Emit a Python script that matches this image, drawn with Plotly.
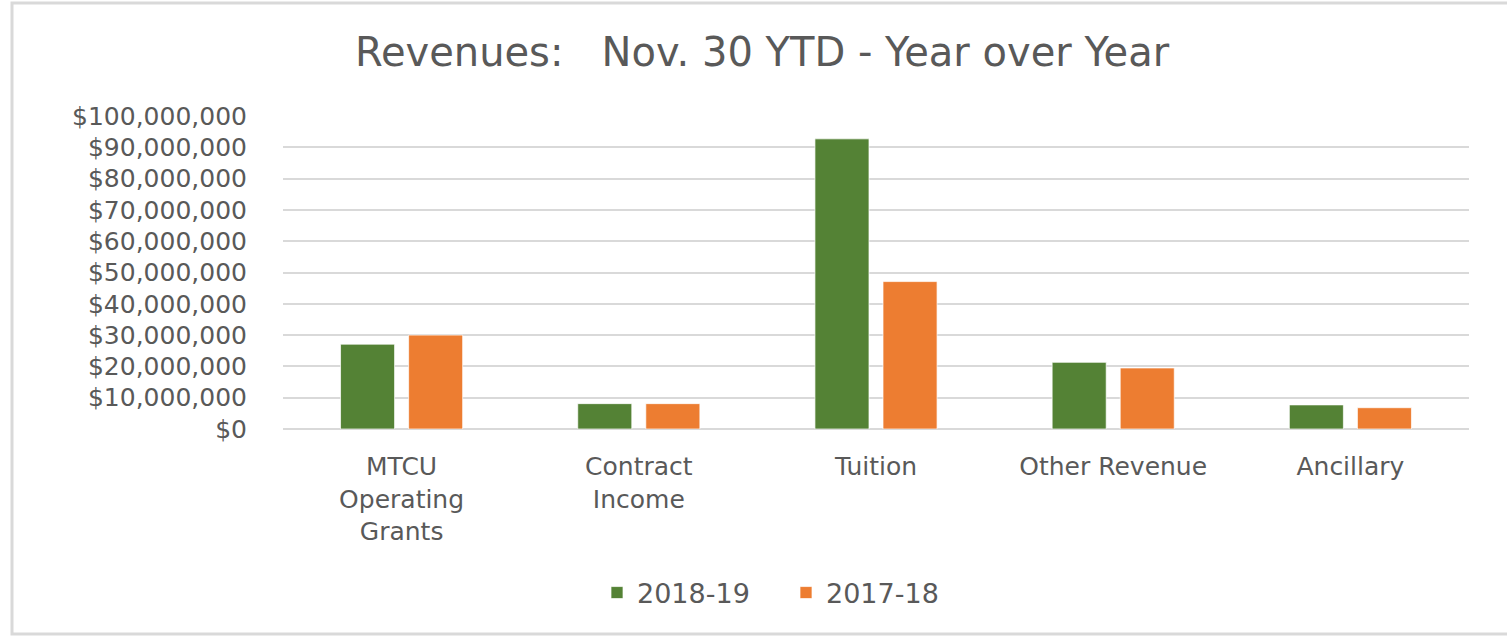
import plotly.graph_objects as go

# Revenues Nov. 30 YTD, year over year
categories = ["MTCU<br>Operating<br>Grants", "Contract<br>Income", "Tuition", "Other Revenue", "Ancillary"]
rev_2018_19 = [27100000, 8100000, 92700000, 21300000, 7700000]
rev_2017_18 = [30000000, 8100000, 47100000, 19500000, 6800000]
y_ticks = [0, 10000000, 20000000, 30000000, 40000000, 50000000,
           60000000, 70000000, 80000000, 90000000, 100000000]
y_labels = ["$" + f"{v:,}" for v in y_ticks]

W, H = 1507, 636
L, R, T, B = 283, 38, 116, 207
pw, ph = W - L - R, H - T - B

FONT = "DejaVu Sans"
TXT = "#595959"
GRID = "#D9D9D9"

fig = go.Figure()
fig.add_trace(go.Bar(
    x=categories, y=rev_2018_19, name="2018-19",
    marker=dict(color="#548235", line=dict(color="rgba(255,255,255,0.7)", width=1)),
))
fig.add_trace(go.Bar(
    x=categories, y=rev_2017_18, name="2017-18",
    marker=dict(color="#ED7D31", line=dict(color="rgba(255,255,255,0.7)", width=1)),
))

fig.update_layout(
    width=W, height=H,
    margin=dict(l=L, r=R, t=T, b=B, autoexpand=False),
    paper_bgcolor="white", plot_bgcolor="white",
    barmode="group", bargap=0.426, bargroupgap=0.206,
    title=dict(
        text="Revenues:\u00a0\u00a0 Nov. 30 YTD - Year over Year",
        x=(762 - L) / pw, xref="paper", xanchor="center",
        y=1 - 52 / H, yanchor="middle",
        font=dict(family=FONT, size=40, color=TXT),
    ),
    font=dict(family=FONT, color=TXT),
    legend=dict(
        orientation="h", x=(786 - L) / pw, xanchor="center",
        y=(429 - 593) / ph, yanchor="middle",
        font=dict(size=27, color=TXT), itemwidth=30,
        entrywidth=144,
    ),
    showlegend=True,
)

fig.update_yaxes(
    range=[0, 100000000], tickvals=y_ticks, ticktext=y_labels,
    showgrid=True, gridcolor=GRID, gridwidth=2,
    zeroline=True, zerolinecolor=GRID, zerolinewidth=2,
    showline=False, ticks="", ticklabelstandoff=35,
    tickfont=dict(family=FONT, size=25, color=TXT),
)
fig.update_xaxes(
    showline=False, ticks="", ticklabelstandoff=20,
    tickfont=dict(family=FONT, size=25, color=TXT),
)

# light grey frame around the chart
fig.add_shape(
    type="rect", xref="paper", yref="paper",
    x0=(12 - L) / pw, x1=(1515 - L) / pw,
    y0=(429 - 634) / ph, y1=(429 - 3) / ph,
    line=dict(color=GRID, width=3), fillcolor="rgba(0,0,0,0)", layer="below",
)

# drop the default page margin so the figure sits at the window corner
fig.write_html("out.html", config={"displayModeBar": False},
               post_script="document.body.style.margin = '0';")
